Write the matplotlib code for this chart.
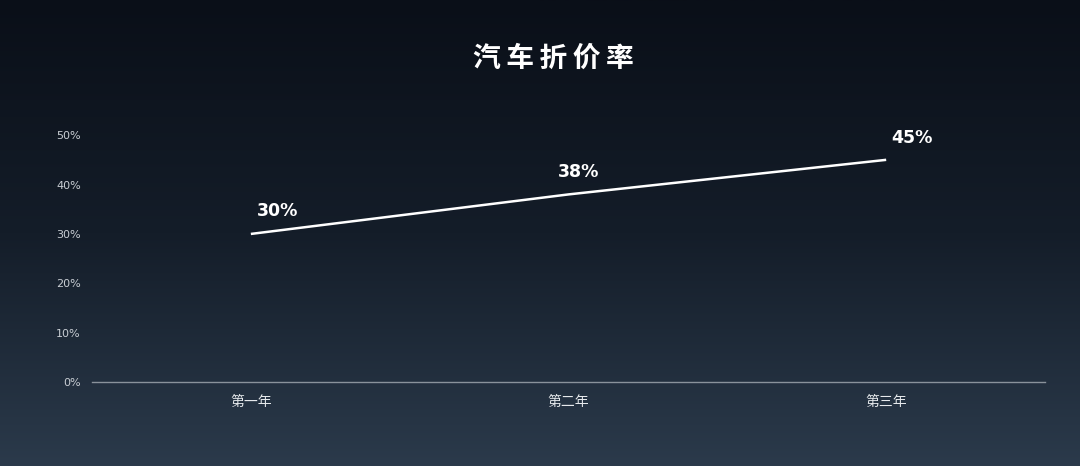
import numpy as np
import matplotlib.pyplot as plt
from matplotlib.colors import LinearSegmentedColormap

plt.rcParams['font.family'] = ['Noto Sans CJK SC', 'DejaVu Sans']

categories = ['第一年', '第二年', '第三年']
rates = [30, 38, 45]
rate_labels = ['30%', '38%', '45%']
yticks = [0, 10, 20, 30, 40, 50]
title = '汽车折价率'

fig = plt.figure(figsize=(10.8, 4.66), dpi=100)

# background gradient
bg = fig.add_axes([0, 0, 1, 1], zorder=0)
cmap = LinearSegmentedColormap.from_list('bg', ['#0a0f18', '#141d29', '#2b3a4b'])
grad = np.linspace(0, 1, 256).reshape(-1, 1)
bg.imshow(grad, aspect='auto', cmap=cmap, extent=[0, 1, 0, 1], origin='upper')
bg.axis('off')

ax = fig.add_axes([0.0852, 0.180, 0.8824, 0.530], zorder=1)
ax.patch.set_alpha(0)
x = np.arange(len(categories))
ax.plot(x, rates, color='white', lw=1.8, solid_capstyle='butt')

offsets = [(4, 10), (-8, 10), (4, 9)]
for xi, r, lab, off in zip(x, rates, rate_labels, offsets):
    ax.annotate(lab, (xi, r), xytext=off, textcoords='offset points',
                ha='left', va='bottom', color='white', fontsize=12.5,
                fontweight='bold', family=['DejaVu Sans'])

ax.set_xlim(-0.5, 2.5)
ax.set_ylim(0, 50)
ax.set_yticks(yticks)
ax.set_yticklabels([f'{v}%' for v in yticks], family=['DejaVu Sans'])
ax.set_xticks(x)
ax.set_xticklabels(categories, fontweight='medium')
ax.tick_params(axis='y', length=0, pad=8, labelsize=8, labelcolor='#c9ced4')
ax.tick_params(axis='x', length=0, pad=9, labelsize=10, labelcolor='#e6e9ec')
for s in ['top', 'right', 'left']:
    ax.spines[s].set_visible(False)
ax.spines['bottom'].set_color('#8a929b')
ax.spines['bottom'].set_linewidth(1)

spaced_title = '\u2009'.join(title)
fig.text(0.512, 0.874, spaced_title, ha='center', va='center', color='white',
         fontsize=20, fontweight='bold')

fig.savefig('out.png', dpi=100)
